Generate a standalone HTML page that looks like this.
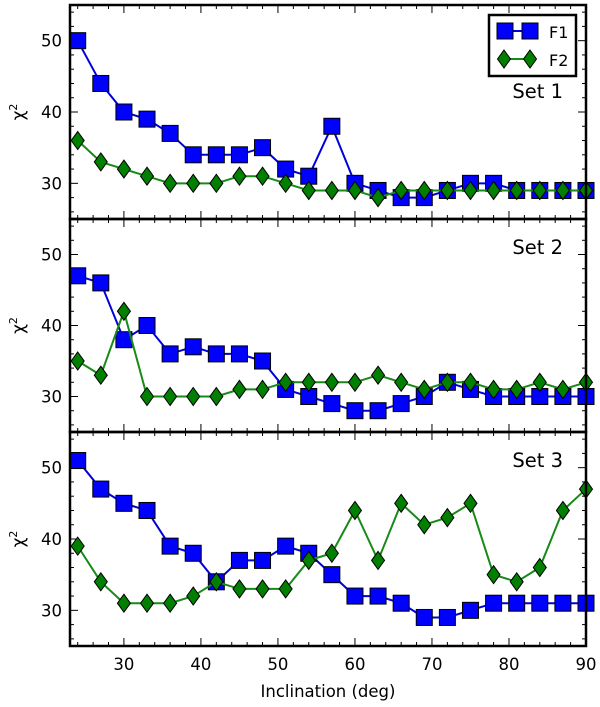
<!DOCTYPE html>
<html><head><meta charset="utf-8"><style>
body{margin:0;background:#fff}
svg{display:block;font-family:"DejaVu Sans","Liberation Sans",sans-serif}
</style></head><body>
<svg id="chart" width="600" height="707" viewBox="0 0 600 707" xmlns="http://www.w3.org/2000/svg"></svg>
<script>
const inclinations=[24,27,30,33,36,39,42,45,48,51,54,57,60,63,66,69,72,75,78,81,84,87,90];
const set1F1=[50,44,40,39,37,34,34,34,35,32,31,38,30,29,28,28,29,30,30,29,29,29,29];
const set1F2=[36,33,32,31,30,30,30,31,31,30,29,29,29,28,29,29,29,29,29,29,29,29,29];
const set2F1=[47,46,38,40,36,37,36,36,35,31,30,29,28,28,29,30,32,31,30,30,30,30,30];
const set2F2=[35,33,42,30,30,30,30,31,31,32,32,32,32,33,32,31,32,32,31,31,32,31,32];
const set3F1=[51,47,45,44,39,38,34,37,37,39,38,35,32,32,31,29,29,30,31,31,31,31,31];
const set3F2=[39,34,31,31,31,32,34,33,33,33,37,38,44,37,45,42,43,45,35,34,36,44,47];
const xTicks=[30,40,50,60,70,80,90];
const yTicks=[30,40,50];
const panelNames=["Set 1","Set 2","Set 3"];
const panelData=[[set1F1,set1F2],[set2F1,set2F2],[set3F1,set3F2]];

const NS="http://www.w3.org/2000/svg";
const svg=document.getElementById('chart');
const L=70,R=586,XMIN=23,XMAX=90,YMIN=25,YMAX=55;
const tops=[5,219,432],bots=[219,432,646];
function sx(v){return L+(v-XMIN)/(XMAX-XMIN)*(R-L);}
function mk(tag,attrs,parent){const e=document.createElementNS(NS,tag);for(const k in attrs)e.setAttribute(k,attrs[k]);(parent||svg).appendChild(e);return e;}

panelData.forEach((series,p)=>{
  const T=tops[p],B=bots[p];
  const sy=v=>B-(v-YMIN)/(YMAX-YMIN)*(B-T);
  const g=mk('g',{});
  
  
  for(let v=24;v<=90;v+=2){
    const major=v%10===0;const len=major?8:4;const x=sx(v);
    mk('line',{x1:x,x2:x,y1:B,y2:B-len,stroke:'#000','stroke-width':1},g);
    mk('line',{x1:x,x2:x,y1:T,y2:T+len,stroke:'#000','stroke-width':1},g);
  }
  for(let v=26;v<=54;v+=2){
    const major=v%10===0;const len=major?8:4;const y=sy(v);
    mk('line',{x1:L,x2:L+len,y1:y,y2:y,stroke:'#000','stroke-width':1},g);
    mk('line',{x1:R,x2:R-len,y1:y,y2:y,stroke:'#000','stroke-width':1},g);
  }
  yTicks.forEach(v=>{
    const t=mk('text',{x:L-8,y:sy(v)+6,'text-anchor':'end','font-size':16.5},g);t.textContent=v;
    
    
  });
  const yl=mk('text',{x:0,y:0,'font-size':17,transform:`translate(24,${(T+B)/2}) rotate(-90)`,'text-anchor':'middle'},g);
  yl.innerHTML='χ<tspan dy="-7" font-size="11">2</tspan>';
  
  
  const fills=['#0000ff','#007f00'];
  series.forEach((vals,s)=>{
    const pts=inclinations.map((x,i)=>sx(x)+','+sy(vals[i])).join(' ');
    const pl=mk('polyline',{points:pts,fill:'none',stroke:s?'#178a17':'#0000dd','stroke-width':2},g);
    
    
    inclinations.forEach((x,i)=>{
      const cx=sx(x),cy=sy(vals[i]);let m;
      if(s===0)m=mk('rect',{x:cx-8,y:cy-8,width:16,height:16,fill:fills[0],stroke:'#000','stroke-width':1},g);
      else m=mk('polygon',{points:`${cx},${cy-9} ${cx+6.5},${cy} ${cx},${cy+9} ${cx-6.5},${cy}`,fill:fills[1],stroke:'#000','stroke-width':1},g);
      
      
    });
  });
  const st=mk('text',{x:563,y:p===0?98:(T+35),'text-anchor':'end','font-size':19.5},g);
  st.textContent=panelNames[p];
  
  
  const fr=mk('rect',{x:L,y:T,width:R-L,height:B-T,fill:'none',stroke:'#000','stroke-width':2.5},g);
  
  
});
xTicks.forEach(v=>{
  const t=mk('text',{x:sx(v),y:670,'text-anchor':'middle','font-size':16.5});t.textContent=v;
  
  
});
const xl=mk('text',{x:(L+R)/2,y:697,'text-anchor':'middle','font-size':16.5});xl.textContent='Inclination (deg)';


const lg=mk('g',{});


mk('rect',{x:489,y:15,width:87,height:61,fill:'#fff',stroke:'#000','stroke-width':2.5},lg);
mk('line',{x1:505,x2:530,y1:31,y2:31,stroke:'#0000dd','stroke-width':2},lg);
mk('rect',{x:497,y:23,width:16,height:16,fill:'#0000ff',stroke:'#000'},lg);
mk('rect',{x:522,y:23,width:16,height:16,fill:'#0000ff',stroke:'#000'},lg);
mk('line',{x1:505,x2:530,y1:59,y2:59,stroke:'#178a17','stroke-width':2},lg);
mk('polygon',{points:'504,50 510.5,59 504,68 497.5,59',fill:'#007f00',stroke:'#000'},lg);
mk('polygon',{points:'530,50 536.5,59 530,68 523.5,59',fill:'#007f00',stroke:'#000'},lg);
const t1=mk('text',{x:549,y:38,'font-size':16},lg);t1.textContent='F1';


const t2=mk('text',{x:549,y:66,'font-size':16},lg);t2.textContent='F2';


</script>
</body></html>
